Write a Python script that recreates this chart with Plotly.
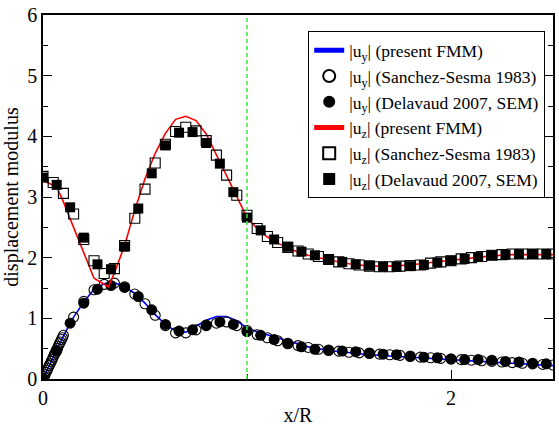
import plotly.graph_objects as go

# |u_y| present FMM (blue line)
fmm_y_x = [0, 0.05, 0.1, 0.15, 0.2, 0.25, 0.3, 0.34, 0.4, 0.45, 0.5, 0.55, 0.6, 0.65, 0.7,
           0.75, 0.8, 0.85, 0.9, 0.95, 1.0, 1.05, 1.1, 1.2, 1.3, 1.4, 1.5, 1.6, 1.7, 1.8,
           1.9, 2.0, 2.1, 2.2, 2.3, 2.4, 2.5]
fmm_y_v = [0, 0.36, 0.71, 1.02, 1.27, 1.48, 1.57, 1.60, 1.52, 1.41, 1.25, 1.06, 0.90, 0.79, 0.77,
           0.87, 0.97, 1.03, 1.03, 0.96, 0.84, 0.78, 0.73, 0.62, 0.53, 0.47, 0.43, 0.40, 0.38, 0.36,
           0.34, 0.32, 0.30, 0.28, 0.26, 0.24, 0.22]

# |u_z| present FMM (red line)
fmm_z_x = [0, 0.067, 0.1, 0.15, 0.2, 0.25, 0.32, 0.35, 0.4, 0.45, 0.5, 0.55, 0.6, 0.65, 0.7,
           0.75, 0.8, 0.85, 0.9, 0.95, 1.0, 1.05, 1.1, 1.15, 1.2, 1.25, 1.3, 1.4, 1.5, 1.6,
           1.7, 1.8, 1.9, 2.0, 2.1, 2.2, 2.3, 2.4, 2.5]
fmm_z_v = [3.27, 3.17, 2.92, 2.50, 2.08, 1.66, 1.52, 1.75, 2.20, 2.78, 3.30, 3.72, 4.05, 4.28, 4.33,
           4.26, 4.04, 3.70, 3.35, 3.00, 2.66, 2.48, 2.34, 2.24, 2.16, 2.09, 2.04, 1.96, 1.90, 1.86,
           1.86, 1.88, 1.92, 1.96, 2.00, 2.03, 2.05, 2.05, 2.05]

# Sanchez-Sesma (1983), |u_y| (open circles)
ss_y_x = [0, 0.005, 0.01, 0.015, 0.02, 0.025, 0.03, 0.035, 0.04, 0.045, 0.05, 0.055, 0.06,
          0.065, 0.07, 0.075, 0.08, 0.085, 0.09, 0.095, 0.1,
          0.15, 0.2, 0.25, 0.3, 0.35, 0.4, 0.45, 0.5, 0.55, 0.6, 0.65, 0.7, 0.75, 0.8, 0.85,
          0.9, 0.95, 1.0, 1.05, 1.1, 1.15, 1.2, 1.25, 1.3, 1.35, 1.4, 1.45, 1.5, 1.55, 1.6,
          1.65, 1.7, 1.75, 1.8, 1.85, 1.9, 1.95, 2.0, 2.05, 2.1, 2.15, 2.2, 2.25, 2.3, 2.35,
          2.4, 2.45, 2.5]
ss_y_v = [0, 0.04, 0.07, 0.11, 0.14, 0.18, 0.22, 0.25, 0.29, 0.32, 0.36, 0.40, 0.43,
          0.47, 0.50, 0.54, 0.58, 0.61, 0.65, 0.68, 0.72,
          1.02, 1.28, 1.47, 1.56, 1.58, 1.52, 1.40, 1.24, 1.05, 0.88, 0.76, 0.76, 0.81, 0.88, 0.92,
          0.94, 0.88, 0.80, 0.73, 0.68, 0.63, 0.58, 0.55, 0.52, 0.49, 0.47, 0.46, 0.44, 0.43, 0.42,
          0.41, 0.40, 0.39, 0.37, 0.36, 0.35, 0.34, 0.33, 0.32, 0.31, 0.30, 0.29, 0.28, 0.27, 0.26,
          0.25, 0.24, 0.23]

# Delavaud (2007, SEM), |u_y| (filled circles)
sem_x = [0, 0.067, 0.133, 0.2, 0.267, 0.333, 0.4, 0.467, 0.533, 0.6, 0.667, 0.733, 0.8, 0.867,
         0.933, 1.0, 1.067, 1.133, 1.2, 1.267, 1.333, 1.4, 1.467, 1.533, 1.6, 1.667, 1.733,
         1.8, 1.867, 1.933, 2.0, 2.067, 2.133, 2.2, 2.267, 2.333, 2.4, 2.467]
sem_y_v = [0.02, 0.46, 0.92, 1.25, 1.48, 1.54, 1.51, 1.36, 1.14, 0.90, 0.79, 0.81, 0.89, 0.94,
           0.90, 0.78, 0.72, 0.65, 0.59, 0.53, 0.49, 0.48, 0.46, 0.45, 0.43, 0.41, 0.40,
           0.38, 0.36, 0.35, 0.33, 0.32, 0.32, 0.31, 0.29, 0.28, 0.26, 0.25]

# Sanchez-Sesma (1983), |u_z| (open squares)
ss_z_x = [0, 0.05, 0.1, 0.15, 0.2, 0.25, 0.3, 0.35, 0.4, 0.45, 0.5, 0.55, 0.6, 0.65, 0.7,
          0.75, 0.8, 0.85, 0.9, 0.95, 1.0, 1.05, 1.1, 1.15, 1.2, 1.25, 1.3, 1.35, 1.4, 1.45,
          1.5, 1.55, 1.6, 1.65, 1.7, 1.75, 1.8, 1.85, 1.9, 1.95, 2.0, 2.05, 2.1, 2.15, 2.2,
          2.25, 2.3, 2.35, 2.4, 2.45, 2.5]
ss_z_v = [3.34, 3.24, 3.06, 2.72, 2.30, 1.95, 1.74, 1.82, 2.20, 2.65, 3.13, 3.56, 3.87, 4.08, 4.15,
          4.09, 3.93, 3.69, 3.36, 3.03, 2.70, 2.48, 2.35, 2.25, 2.17, 2.11, 2.06, 2.02, 1.97, 1.93,
          1.90, 1.88, 1.86, 1.85, 1.85, 1.86, 1.87, 1.88, 1.91, 1.93, 1.95, 1.98, 2.00, 2.02, 2.04,
          2.05, 2.06, 2.06, 2.06, 2.06, 2.06]

# Delavaud (2007, SEM), |u_z| (filled squares)
sem_z_v = [3.32, 3.20, 2.83, 2.33, 1.89, 1.81, 2.18, 2.81, 3.39, 3.85, 4.06, 4.07, 3.89, 3.55,
           3.08, 2.66, 2.45, 2.30, 2.18, 2.10, 2.04, 1.97, 1.93, 1.89, 1.87, 1.85, 1.85,
           1.86, 1.88, 1.92, 1.95, 1.98, 2.01, 2.04, 2.05, 2.06, 2.06, 2.06]

SERIF = "Times New Roman"
MS = 10

fig = go.Figure()
fig.add_trace(go.Scatter(x=fmm_y_x, y=fmm_y_v, mode="lines",
                         line=dict(color="#0000ff", width=1.6),
                         name="|u<sub>y</sub>| (present FMM)"))
fig.add_trace(go.Scatter(x=ss_y_x, y=ss_y_v, mode="markers",
                         marker=dict(symbol="circle-open", size=MS, color="black",
                                     line=dict(width=1.1, color="black")),
                         name="|u<sub>y</sub>| (Sanchez-Sesma 1983)"))
fig.add_trace(go.Scatter(x=sem_x, y=sem_y_v, mode="markers",
                         marker=dict(symbol="circle", size=MS + 1, color="black"),
                         name="|u<sub>y</sub>| (Delavaud 2007, SEM)"))
fig.add_trace(go.Scatter(x=fmm_z_x, y=fmm_z_v, mode="lines",
                         line=dict(color="#ff0000", width=1.6),
                         name="|u<sub>z</sub>| (present FMM)"))
fig.add_trace(go.Scatter(x=ss_z_x, y=ss_z_v, mode="markers",
                         marker=dict(symbol="square-open", size=MS, color="black",
                                     line=dict(width=1.1, color="black")),
                         name="|u<sub>z</sub>| (Sanchez-Sesma 1983)"))
fig.add_trace(go.Scatter(x=sem_x, y=sem_z_v, mode="markers",
                         marker=dict(symbol="square", size=MS, color="black"),
                         name="|u<sub>z</sub>| (Delavaud 2007, SEM)"))

# canyon edge at x/R = 1
fig.add_shape(type="line", xref="x", yref="paper", x0=1, x1=1, y0=0, y1=1,
              line=dict(color="#33ee33", width=1.5, dash="4px,3px"), layer="above")

fig.update_layout(
    width=559, height=427,
    margin=dict(l=43, r=4, t=13, b=36),
    paper_bgcolor="white", plot_bgcolor="white",
    font=dict(family=SERIF, color="black", size=18),
    showlegend=True,
    legend=dict(x=0.52, y=0.955, xanchor="left", yanchor="top",
                bgcolor="white", bordercolor="black", borderwidth=1,
                font=dict(family=SERIF, size=17.5), itemsizing="constant",
                tracegroupgap=0),
    xaxis=dict(range=[0, 2.5], tickmode="array", tickvals=[0, 2], ticktext=["0", "2"],
               ticks="inside", ticklen=9, tickwidth=1.2, tickcolor="black",
               minor=dict(tickvals=[1], ticks="inside", ticklen=5, tickcolor="black"),
               showline=True, linecolor="black", linewidth=1.5, mirror=True,
               showgrid=False, zeroline=False,
               tickfont=dict(family=SERIF, size=20),
               title=dict(text="x/R", font=dict(family=SERIF, size=20), standoff=0)),
    yaxis=dict(range=[0, 6], dtick=1, ticks="inside", ticklen=9, tickwidth=1.2,
               tickcolor="black",
               minor=dict(dtick=0.5, ticks="inside", ticklen=5, tickcolor="black"),
               showline=True, linecolor="black", linewidth=1.5, mirror="ticks",
               showgrid=False, zeroline=False,
               tickfont=dict(family=SERIF, size=20),
               title=dict(text="displacement modulus", font=dict(family=SERIF, size=20),
                          standoff=4)),
)

fig.write_html("out.html")
